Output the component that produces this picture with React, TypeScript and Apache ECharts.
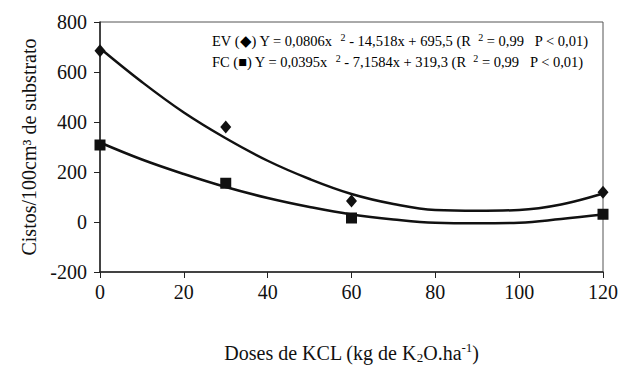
import React, { useEffect, useRef } from "react";
import * as echarts from "echarts";

const xTicks = [0, 20, 40, 60, 80, 100, 120];
const evPoints: [number, number][] = [[0, 685], [30, 380], [60, 84], [120, 119]];
const fcPoints: [number, number][] = [[0, 308], [30, 155], [60, 16], [120, 31]];
const curveX = [0, 10, 20, 30, 40, 50, 60, 70, 80, 90, 100, 110, 120];
const evCurve = [695, 560, 438, 335, 245, 172, 112, 72, 48, 45, 48, 70, 114];
const fcCurve = [318, 250, 192, 140, 96, 60, 30, 10, -3, -5, -3, 12, 30];

const FONT = "Times New Roman, Liberation Serif, serif";

export default function App() {
  const ref = useRef<HTMLDivElement>(null);
  useEffect(() => {
    if (!ref.current) return;
    const chart = echarts.init(ref.current, undefined, { renderer: "svg" });
    const sub = { fontFamily: FONT, fontSize: 10, color: "#111", padding: [0, 0, 8, 0] };
    const base = { fontFamily: FONT, fontSize: 14.5, color: "#111" };
    chart.setOption({
      animation: false,
      backgroundColor: "#fff",
      textStyle: { fontFamily: FONT },
      grid: { left: 100, right: 18, top: 22, bottom: 97, show: true, borderColor: "#555", borderWidth: 1 },
      xAxis: {
        type: "value",
        min: 0,
        max: 120,
        interval: 20,
        axisLine: { onZero: false, lineStyle: { color: "#222", width: 1.5 } },
        axisTick: { show: true, inside: false, length: 6, lineStyle: { color: "#222" } },
        splitLine: { show: false },
        axisLabel: { fontFamily: FONT, fontSize: 20, color: "#111", margin: 10, formatter: (v: number) => (xTicks.includes(v) ? String(v) : "") },
        name: "{a|Doses de KCL (kg de K}{b|2}{a|O.ha}{c|-1}{a|)}",
        nameLocation: "middle",
        nameGap: 69,
        nameTextStyle: {
          rich: {
            a: { fontFamily: FONT, fontSize: 20, color: "#111" },
            b: { fontFamily: FONT, fontSize: 13, color: "#111", padding: [9, 0, 0, 0] },
            c: { fontFamily: FONT, fontSize: 13, color: "#111", padding: [0, 0, 11, 0] },
          },
        },
      },
      yAxis: {
        type: "value",
        min: -200,
        max: 800,
        interval: 200,
        axisLine: { show: true, lineStyle: { color: "#222", width: 1.5 } },
        axisTick: { show: true, inside: false, length: 6, lineStyle: { color: "#222" } },
        splitLine: { show: false },
        axisLabel: { fontFamily: FONT, fontSize: 20, color: "#111", margin: 13 },
        name: "Cistos/100cm³ de substrato",
        nameLocation: "middle",
        nameGap: 61,
        nameTextStyle: { fontFamily: FONT, fontSize: 20, color: "#111" },
      },
      graphic: [
        {
          type: "text",
          left: 212,
          top: 32,
          style: {
            text: "{a|EV (◆) Y = 0,0806x  }{s|2}{a| - 14,518x + 695,5 (R  }{s|2}{a| = 0,99   P < 0,01)}",
            rich: { a: base, s: sub },
          },
        },
        {
          type: "text",
          left: 212,
          top: 53,
          style: {
            text: "{a|FC (■) Y = 0,0395x  }{s|2}{a| - 7,1584x + 319,3 (R  }{s|2}{a| = 0,99   P < 0,01)}",
            rich: { a: base, s: sub },
          },
        },
      ],
      series: [
        {
          type: "line",
          data: curveX.map((x, i) => [x, evCurve[i]]),
          smooth: 0.4,
          showSymbol: false,
          lineStyle: { color: "#111", width: 2.5 },
        },
        {
          type: "line",
          data: curveX.map((x, i) => [x, fcCurve[i]]),
          smooth: 0.4,
          showSymbol: false,
          lineStyle: { color: "#111", width: 2.5 },
        },
        {
          type: "scatter",
          data: evPoints,
          symbol: "diamond",
          symbolSize: [11, 13],
          itemStyle: { color: "#111", opacity: 1 },
          z: 5,
        },
        {
          type: "scatter",
          data: fcPoints,
          symbol: "rect",
          symbolSize: 11,
          itemStyle: { color: "#111", opacity: 1 },
          z: 5,
        },
      ],
    });
    return () => chart.dispose();
  }, []);
  return <div ref={ref} style={{ width: 621, height: 369, position: "absolute", left: 0, top: 0 }} />;
}
